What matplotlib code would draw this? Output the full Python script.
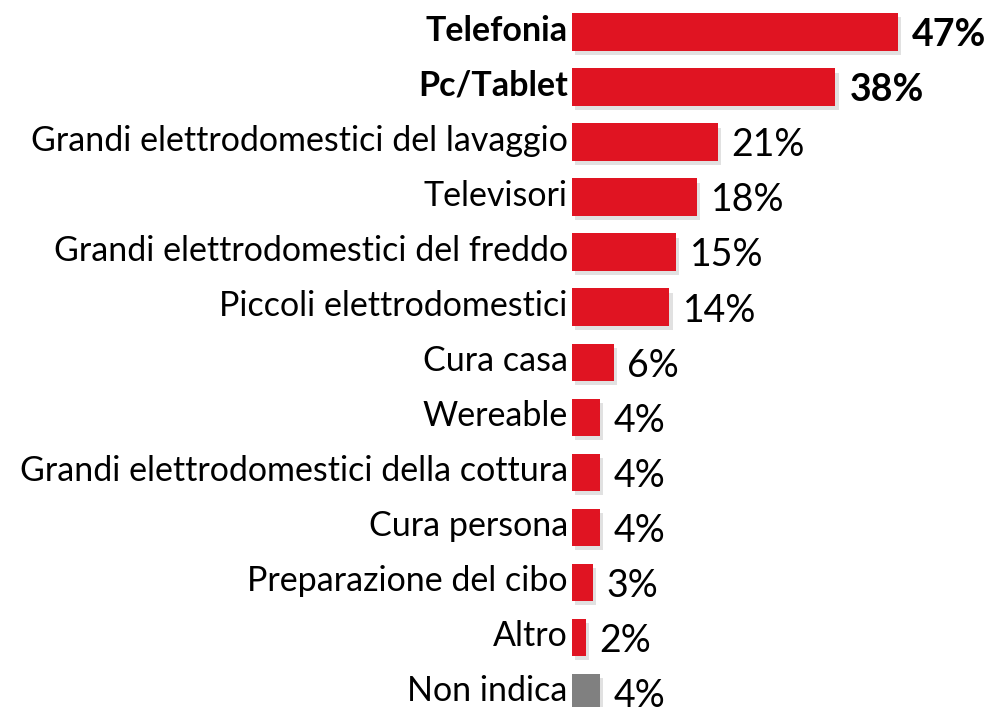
import matplotlib.pyplot as plt
import matplotlib.patheffects as pe

categories = [
    "Telefonia", "Pc/Tablet", "Grandi elettrodomestici del lavaggio", "Televisori",
    "Grandi elettrodomestici del freddo", "Piccoli elettrodomestici", "Cura casa",
    "Wereable", "Grandi elettrodomestici della cottura", "Cura persona",
    "Preparazione del cibo", "Altro", "Non indica",
]
values = [47, 38, 21, 18, 15, 14, 6, 4, 4, 4, 3, 2, 4]
bold = [True, True] + [False] * 11
colors = ["#E01422"] * 12 + ["#808080"]

plt.rcParams['font.family'] = ['Lato', 'DejaVu Sans']

fig = plt.figure(figsize=(9.88, 7.07), dpi=100)
ax = fig.add_axes([572 / 988, -13 / 707, 416 / 988, 715.5 / 707])

pos = list(range(len(categories)))
shadow = [pe.SimplePatchShadow(offset=(2.5, -3), shadow_rgbFace='#aaaaaa', alpha=0.35), pe.Normal()]
bars = ax.barh(pos, values, height=0.68, color=colors)
for b in bars:
    b.set_path_effects(shadow)

for i, (c, v, bd) in enumerate(zip(categories, values, bold)):
    w = 'bold' if bd else 'normal'
    ax.text(-0.6, i - 0.02, c, ha='right', va='center', fontsize=24.5, fontweight=w,
            clip_on=False)
    ax.text(v + 2.0, i + 0.06, f"{v}%", ha='left', va='center', fontsize=27,
            fontweight=w, clip_on=False)

ax.set_xlim(0, 60)
ax.set_ylim(12.5, -0.5)
ax.axis('off')

fig.savefig('out.png', dpi=100)
